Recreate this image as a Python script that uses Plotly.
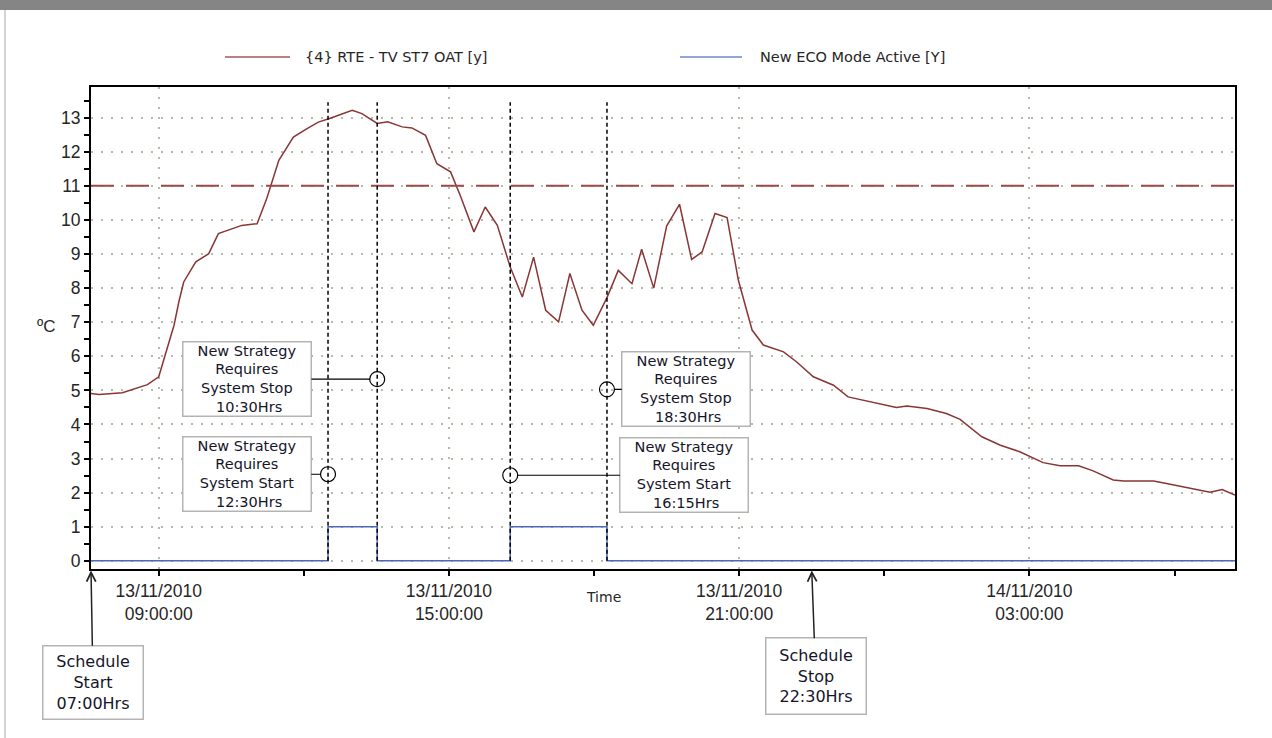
import plotly.graph_objects as go

# ---------------- data ----------------
OAT_TIME = [
    "2010-11-13 07:35", "2010-11-13 07:46", "2010-11-13 08:15", "2010-11-13 08:31",
    "2010-11-13 08:46", "2010-11-13 09:00", "2010-11-13 09:10", "2010-11-13 09:19",
    "2010-11-13 09:25", "2010-11-13 09:31", "2010-11-13 09:46", "2010-11-13 10:02",
    "2010-11-13 10:14", "2010-11-13 10:27", "2010-11-13 10:43", "2010-11-13 11:02",
    "2010-11-13 11:14", "2010-11-13 11:29", "2010-11-13 11:47", "2010-11-13 12:04",
    "2010-11-13 12:18", "2010-11-13 12:31", "2010-11-13 12:43", "2010-11-13 13:00",
    "2010-11-13 13:12", "2010-11-13 13:31", "2010-11-13 13:44", "2010-11-13 14:02",
    "2010-11-13 14:14", "2010-11-13 14:31", "2010-11-13 14:45", "2010-11-13 15:02",
    "2010-11-13 15:14", "2010-11-13 15:31", "2010-11-13 15:45", "2010-11-13 16:00",
    "2010-11-13 16:16", "2010-11-13 16:31", "2010-11-13 16:45", "2010-11-13 17:00",
    "2010-11-13 17:16", "2010-11-13 17:30", "2010-11-13 17:45", "2010-11-13 17:59",
    "2010-11-13 18:16", "2010-11-13 18:30", "2010-11-13 18:47", "2010-11-13 18:59",
    "2010-11-13 19:14", "2010-11-13 19:30", "2010-11-13 19:46", "2010-11-13 20:01",
    "2010-11-13 20:14", "2010-11-13 20:30", "2010-11-13 20:45", "2010-11-13 20:59",
    "2010-11-13 21:16", "2010-11-13 21:30", "2010-11-13 21:55", "2010-11-13 22:11",
    "2010-11-13 22:32", "2010-11-13 22:57", "2010-11-13 23:15", "2010-11-13 23:34",
    "2010-11-13 23:59", "2010-11-14 00:15", "2010-11-14 00:28", "2010-11-14 00:44",
    "2010-11-14 00:53", "2010-11-14 01:17", "2010-11-14 01:34", "2010-11-14 02:01",
    "2010-11-14 02:24", "2010-11-14 02:48", "2010-11-14 03:17", "2010-11-14 03:38",
    "2010-11-14 04:01", "2010-11-14 04:19", "2010-11-14 04:44", "2010-11-14 04:57",
    "2010-11-14 05:34", "2010-11-14 05:50", "2010-11-14 06:15", "2010-11-14 06:44",
    "2010-11-14 06:59", "2010-11-14 07:15",
]
OAT_VALUE = [
    4.91, 4.88, 4.93, 5.06,
    5.17, 5.40, 6.23, 6.91,
    7.60, 8.18, 8.77, 9.01,
    9.60, 9.70, 9.84, 9.89,
    10.63, 11.75, 12.43, 12.68,
    12.87, 12.97, 13.07, 13.22,
    13.12, 12.83, 12.88, 12.73,
    12.70, 12.48, 11.65, 11.41,
    10.72, 9.65, 10.38, 9.84,
    8.62, 7.74, 8.91, 7.35,
    7.01, 8.43, 7.35, 6.91,
    7.72, 8.52, 8.13, 9.14,
    8.00, 9.82, 10.46, 8.84,
    9.06, 10.19, 10.07, 8.23,
    6.77, 6.33, 6.13, 5.84,
    5.40, 5.15, 4.81, 4.71,
    4.60, 4.50, 4.54, 4.50,
    4.47, 4.32, 4.15, 3.64,
    3.39, 3.20, 2.88, 2.79,
    2.79, 2.64, 2.37, 2.34,
    2.34, 2.27, 2.14, 2.01,
    2.09, 1.93,
]

ECO_TIME = ["2010-11-13 07:36", "2010-11-13 12:30", "2010-11-13 13:31",
            "2010-11-13 16:16", "2010-11-13 18:16", "2010-11-14 07:15"]
ECO_VALUE = [0, 1, 0, 1, 0, 0]

SERIES_NAMES = ["{4} RTE - TV ST7 OAT [y]", "New ECO Mode Active [Y]"]

THRESHOLD = 11

EVENT_TIME = ["2010-11-13 13:31", "2010-11-13 12:30", "2010-11-13 18:16", "2010-11-13 16:16"]
EVENT_Y = [5.33, 2.54, 5.03, 2.51]
EVENT_TEXT = [
    "New Strategy<br>Requires<br>System Stop<br> 10:30Hrs",
    "New Strategy<br>Requires<br>System Start<br> 12:30Hrs",
    "New Strategy<br>Requires<br>System Stop<br> 18:30Hrs",
    "New Strategy<br>Requires<br>System Start<br> 16:15Hrs",
]

SCHEDULE_TIME = ["2010-11-13 07:36", "2010-11-13 22:30"]
SCHEDULE_TEXT = ["Schedule<br>Start<br>07:00Hrs", "Schedule<br>Stop<br>22:30Hrs"]

X_TICKVALS = ["2010-11-13 09:00", "2010-11-13 15:00", "2010-11-13 21:00", "2010-11-14 03:00"]
X_TICKTEXT = ["13/11/2010<br>09:00:00", "13/11/2010<br>15:00:00",
              "13/11/2010<br>21:00:00", "14/11/2010<br>03:00:00"]
X_RANGE = ["2010-11-13 07:36", "2010-11-14 07:15"]
Y_RANGE = [-0.24, 13.9]

# ---------------- styles / layout helpers ----------------
RED = "#8a3535"
BLUE = "#4a68c0"
W, H = 1272, 738
ML, MR, MT, MB = 91, 37, 87, 169
PW, PH = W - ML - MR, H - MT - MB


def px(x):
    return (x - ML) / PW


def py(y):
    return (H - MB - y) / PH


TICK_FONT = dict(family="Liberation Sans, Arial, sans-serif", size=17.5, color="#262626")
BOX_FONT = dict(family="DejaVu Sans, sans-serif", size=14.5, color="#15152a")
SCHED_FONT = dict(family="DejaVu Sans, sans-serif", size=16, color="#15152a")
LEG_FONT = dict(family="DejaVu Sans, sans-serif", size=14.5, color="#262626")

fig = go.Figure()
fig.add_trace(go.Scatter(x=OAT_TIME, y=OAT_VALUE, mode="lines", name=SERIES_NAMES[0],
                         showlegend=False, line=dict(color=RED, width=1.5)))
fig.add_trace(go.Scatter(x=ECO_TIME, y=ECO_VALUE, mode="lines", name=SERIES_NAMES[1],
                         showlegend=False, line=dict(color=BLUE, width=1.5, shape="hv")))
fig.add_trace(go.Scatter(x=EVENT_TIME, y=EVENT_Y, mode="markers", showlegend=False,
                         marker=dict(symbol="circle-open", size=15,
                                     color="black", line=dict(width=1.2, color="black"))))

shapes = []
shapes.append(dict(type="line", xref="paper", x0=0, x1=1, yref="y", y0=THRESHOLD, y1=THRESHOLD,
                   line=dict(color="#9a4848", width=2, dash="23px,12px")))
for t in sorted(set(EVENT_TIME)):
    shapes.append(dict(type="line", xref="x", x0=t, x1=t, yref="y", y0=0, y1=13.45,
                       line=dict(color="black", width=1.5, dash="4px,3px")))
# window chrome: top bar and left frame line
shapes.append(dict(type="rect", xref="paper", yref="paper", x0=px(-5), x1=px(W + 5),
                   y0=py(10), y1=py(-2), fillcolor="#858585", line=dict(width=0)))
shapes.append(dict(type="line", xref="paper", yref="paper", x0=px(5), x1=px(5),
                   y0=py(H + 2), y1=py(10), line=dict(color="#a8a8a8", width=1)))
# manual legend samples
leg_lines = [(225, 290), (680, 742)]
leg_cols = ["#a05858", "#7088cc"]
for (a, b), c in zip(leg_lines, leg_cols):
    shapes.append(dict(type="line", xref="paper", yref="paper", x0=px(a), x1=px(b),
                       y0=py(57), y1=py(57), line=dict(color=c, width=1.5)))

annotations = []
for name, xs in zip(SERIES_NAMES, [303, 758]):
    annotations.append(dict(x=px(xs), y=py(57), xref="paper", yref="paper", text=name,
                            showarrow=False, xanchor="left", yanchor="middle", font=LEG_FONT))

event_dx = [-130, -81, 79, 174]
for t, yv, txt, dx in zip(EVENT_TIME, EVENT_Y, EVENT_TEXT, event_dx):
    annotations.append(dict(x=t, y=yv, xref="x", yref="y", text=txt, showarrow=True,
                            arrowhead=0, arrowwidth=1.2, arrowcolor="black",
                            ax=dx, ay=0, standoff=7, font=BOX_FONT, align="center",
                            bgcolor="white", bordercolor="#b4b4b4", borderwidth=1.5,
                            borderpad=0, width=127))

sched_dx = [2, 4]
sched_dy = [112, 106]
sched_h = [72, 75]
for t, txt, dx, dy, hh in zip(SCHEDULE_TIME, SCHEDULE_TEXT, sched_dx, sched_dy, sched_h):
    annotations.append(dict(x=t, y=-0.003, xref="x", yref="paper", text=txt, showarrow=True,
                            arrowhead=5, arrowsize=1.2, arrowwidth=1.5, arrowcolor="#222",
                            ax=dx, ay=dy, font=SCHED_FONT,
                            align="center", bgcolor="white", bordercolor="#b4b4b4",
                            borderwidth=1.5, borderpad=0, width=99, height=hh))

annotations.append(dict(x=px(46), y=py(326), xref="paper", yref="paper",
                        xanchor="center", yanchor="middle",
                        text="ºC", showarrow=False, font=dict(TICK_FONT, size=17)))
annotations.append(dict(x=px(603), y=py(597), xref="paper", yref="paper",
                        xanchor="center", yanchor="middle",
                        text="Time", showarrow=False,
                        font=dict(family="DejaVu Sans, sans-serif", size=14, color="#262626")))

GRID = dict(showgrid=True, gridcolor="#b9b9aa", griddash="1.5px,8.5px", gridwidth=1.5)

fig.update_layout(
    width=W, height=H,
    margin=dict(l=ML, r=MR, t=MT, b=MB),
    paper_bgcolor="white", plot_bgcolor="white",
    shapes=shapes, annotations=annotations,
    showlegend=False,
    xaxis=dict(type="date", range=X_RANGE, tickvals=X_TICKVALS, ticktext=X_TICKTEXT,
               showline=True, linecolor="black", linewidth=2, mirror=True,
               ticks="outside", ticklen=5, tickcolor="black", tickwidth=1.5,
               tickfont=TICK_FONT, zeroline=False, **GRID,
               minor=dict(dtick=3 * 3600 * 1000, tick0="2010-11-13 09:00", ticks="outside",
                          ticklen=5, tickcolor="black", tickwidth=1.5, showgrid=False)),
    yaxis=dict(range=Y_RANGE, tick0=0, dtick=1,
               showline=True, linecolor="black", linewidth=2, mirror=True,
               ticks="outside", ticklen=5, tickcolor="black", tickwidth=1.5,
               tickfont=TICK_FONT, zeroline=False, **GRID,
               minor=dict(dtick=0.5, tick0=0, ticks="outside", ticklen=5,
                          tickcolor="black", tickwidth=1.5, showgrid=False)),
)

fig.write_html("out.html", config={"displayModeBar": False},
               post_script="document.body.style.margin='0';")
